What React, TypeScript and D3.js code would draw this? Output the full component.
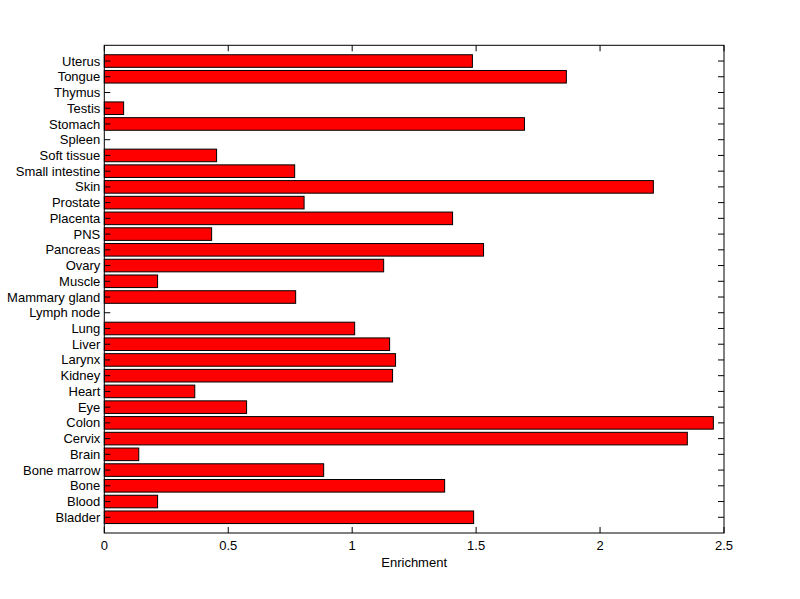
import React from "react";
import { scaleLinear } from "d3";

// tissue categories, bottom to top (MATLAB barh order)
const tissues = [
  "Bladder",
  "Blood",
  "Bone",
  "Bone marrow",
  "Brain",
  "Cervix",
  "Colon",
  "Eye",
  "Heart",
  "Kidney",
  "Larynx",
  "Liver",
  "Lung",
  "Lymph node",
  "Mammary gland",
  "Muscle",
  "Ovary",
  "Pancreas",
  "PNS",
  "Placenta",
  "Prostate",
  "Skin",
  "Small intestine",
  "Soft tissue",
  "Spleen",
  "Stomach",
  "Testis",
  "Thymus",
  "Tongue",
  "Uterus",
];

const enrichment = [
  1.49, 0.215, 1.373, 0.885, 0.139, 2.352, 2.457, 0.574, 0.365, 1.163, 1.175,
  1.151, 1.01, 0, 0.772, 0.215, 1.127, 1.53, 0.433, 1.405, 0.806, 2.215, 0.768,
  0.453, 0, 1.695, 0.078, 0, 1.864, 1.485,
];

const xTicks = [0, 0.5, 1, 1.5, 2, 2.5];
const xTickLabels = ["0", "0.5", "1", "1.5", "2", "2.5"];

const WIDTH = 800;
const HEIGHT = 599;
const left = 104.3;
const right = 724;
const top = 45.3;
const bottom = 533;
const tickLen = 6;
const font = "'Liberation Sans', Arial, Helvetica, sans-serif";

export default function App() {
  const x = scaleLinear().domain([0, 2.5]).range([left, right]);
  const y = scaleLinear()
    .domain([0, tissues.length + 1])
    .range([bottom, top]);
  const barH = y(0) - y(0.8);

  return (
    <div style={{ position: "absolute", left: 0, top: 0 }}>
      <svg width={WIDTH} height={HEIGHT} style={{ display: "block", background: "#fff" }}>
        {/* bars */}
        {tissues.map((t, i) => (
          <rect
            key={t}
            x={x(0)}
            y={y(i + 1) - barH / 2}
            width={x(enrichment[i]) - x(0)}
            height={barH}
            fill="#ff0000"
            stroke="#000"
            strokeWidth={1}
          />
        ))}

        {/* box */}
        <rect
          x={left}
          y={top}
          width={right - left}
          height={bottom - top}
          fill="none"
          stroke="#000"
          strokeWidth={1}
        />

        {/* x ticks, bottom and top */}
        {xTicks.map((v, i) => (
          <g key={"xt" + v}>
            <line x1={x(v)} x2={x(v)} y1={bottom} y2={bottom - tickLen} stroke="#000" />
            <line x1={x(v)} x2={x(v)} y1={top} y2={top + tickLen} stroke="#000" />
            <text
              x={x(v)}
              y={bottom + 17}
              textAnchor="middle"
              fontFamily={font}
              fontSize={13}
              fill="#000"
            >
              {xTickLabels[i]}
            </text>
          </g>
        ))}

        {/* y ticks, left and right */}
        {tissues.map((t, i) => (
          <g key={"yt" + t}>
            <line x1={left} x2={left + tickLen} y1={y(i + 1)} y2={y(i + 1)} stroke="#000" />
            <line x1={right} x2={right - tickLen} y1={y(i + 1)} y2={y(i + 1)} stroke="#000" />
            <text
              x={left - 4}
              y={y(i + 1)}
              dy="0.35em"
              textAnchor="end"
              fontFamily={font}
              fontSize={13}
              fill="#000"
            >
              {t}
            </text>
          </g>
        ))}

        <text
          x={(left + right) / 2}
          y={bottom + 34}
          textAnchor="middle"
          fontFamily={font}
          fontSize={13}
          fill="#000"
        >
          Enrichment
        </text>
      </svg>
    </div>
  );
}
